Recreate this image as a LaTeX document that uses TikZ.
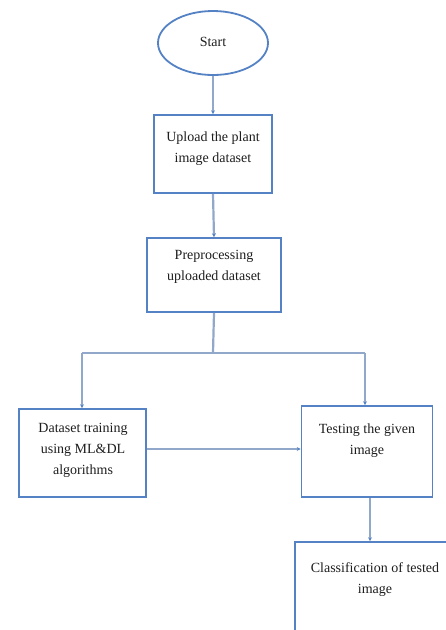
\documentclass[tikz,border=0pt]{standalone}
\usepackage{fontspec}
\setmainfont{Liberation Serif}
\usetikzlibrary{arrows.meta,shapes.geometric}
\definecolor{boxblue}{RGB}{84,130,196}
\definecolor{linkblue}{RGB}{145,168,202}
\definecolor{txt}{RGB}{30,30,30}
\begin{document}
\begin{tikzpicture}[x=1pt,y=-1pt,
  boxframe/.style={draw=boxblue,line width=1.6pt,fill=white,inner sep=0pt},
  label/.style={text=txt,align=center,inner sep=0pt,font=\fontsize{14}{21}\selectfont},
  link/.style={draw=linkblue,line width=2.2pt},
  arr/.style={link,-{Stealth[length=4pt,width=4pt,color=boxblue]}}]
\useasboundingbox (0,0) rectangle (446,630);
\begin{scope}
\clip (0,0) rectangle (446,630);
% Start
\node[ellipse,draw=boxblue,line width=1.8pt,minimum width=110pt,minimum height=64pt,inner sep=0pt] (start) at (213,43) {};
\node[label] (tstart) at (213,42) {Start};
% boxes
\node[boxframe,minimum width=118pt,minimum height=78pt] (upload) at (213,154) {};
\node[label] (tupload) at (213,149) {Upload the plant\\image dataset};
\node[boxframe,minimum width=134pt,minimum height=74pt] (prep) at (214,275) {};
\node[label] (tprep) at (214,267) {Preprocessing\\uploaded dataset};
\node[boxframe,minimum width=127pt,minimum height=88pt] (train) at (82.5,453) {};
\node[label] (ttrain) at (83,450) {Dataset training\\using ML\&DL\\algorithms};
\node[boxframe,minimum width=131pt,minimum height=91pt] (test) at (367,451.5) {};
\node[label] (ttest) at (367,441) {Testing the given\\image};
\node[boxframe,minimum width=162pt,minimum height=110pt] (cls) at (376,597) {};
\node[label] (tcls) at (375,580) {Classification of tested\\image};
% connectors
\coordinate (split) at (213,353);
\coordinate (lcorner) at (82,353);
\coordinate (rcorner) at (365,353);
\draw[arr] (start.south) -- (upload.north);
\draw[arr] (upload.south) -- (prep.north);
\draw[link] (prep.south) -- (split);
\draw[link] (lcorner) -- (rcorner);
\draw[arr] (lcorner) -- (lcorner |- train.north);
\draw[arr] (rcorner) -- (rcorner |- test.north);
\draw[arr] (train.east |- 0,449) -- (test.west |- 0,449);
\draw[arr] (test.south -| 370,0) -- (cls.north -| 370,0);
\end{scope}
\end{tikzpicture}
\end{document}
